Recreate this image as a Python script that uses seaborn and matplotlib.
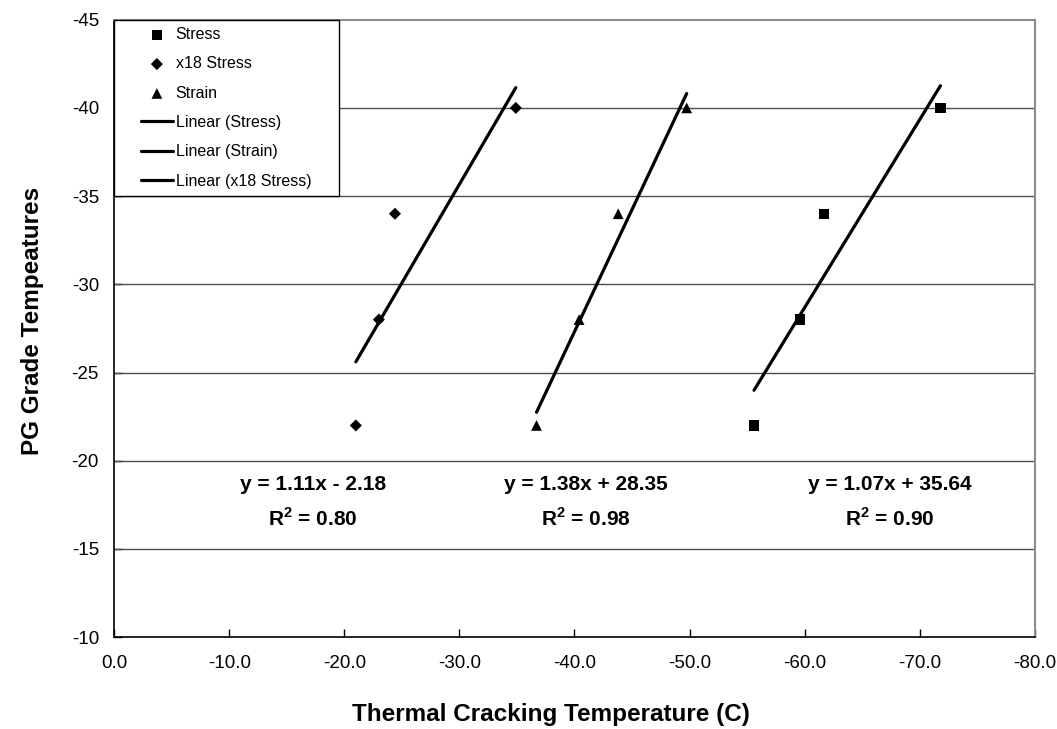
import numpy as np
import pandas as pd
import matplotlib
matplotlib.use("Agg")
import matplotlib.pyplot as plt
import seaborn as sns
from matplotlib.ticker import FixedLocator, FuncFormatter
from matplotlib.lines import Line2D
from matplotlib.collections import PathCollection
from matplotlib.legend_handler import HandlerLine2D, HandlerPathCollection

# ---- data ----
pg_grade = [-22, -28, -34, -40]
stress_x = [-55.6, -59.6, -61.7, -71.8]
x18_stress_x = [-21.0, -23.0, -24.4, -34.9]
strain_x = [-36.7, -40.4, -43.8, -49.75]

eq_texts = ["y = 1.11x - 2.18", "y = 1.38x + 28.35", "y = 1.07x + 35.64"]
r2_texts = ["R$^\\mathbf{2}$ = 0.80", "R$^\\mathbf{2}$ = 0.98", "R$^\\mathbf{2}$ = 0.90"]
x_ticks = [0, -10, -20, -30, -40, -50, -60, -70, -80]
y_ticks = [-45, -40, -35, -30, -25, -20, -15, -10]

sns.set_theme(style="white")
plt.rcParams['font.family'] = ['Liberation Sans', 'DejaVu Sans']
plt.rcParams['mathtext.fontset'] = 'custom'
plt.rcParams['mathtext.rm'] = 'Liberation Sans'
plt.rcParams['mathtext.bf'] = 'Liberation Sans:bold'
plt.rcParams['text.color'] = 'black'
plt.rcParams['axes.labelcolor'] = 'black'

fig = plt.figure(figsize=(10.57, 7.29), dpi=100)
ax = fig.add_axes([0.108, 0.126, 0.871, 0.847])

df_stress = pd.DataFrame({"x": stress_x, "y": pg_grade})
df_x18 = pd.DataFrame({"x": x18_stress_x, "y": pg_grade})
df_strain = pd.DataFrame({"x": strain_x, "y": pg_grade})

lw = 2.3
sns.scatterplot(data=df_stress, x="x", y="y", marker="s", s=55, color="black",
                edgecolor="none", label="Stress", ax=ax, zorder=4)
sns.scatterplot(data=df_x18, x="x", y="y", marker="D", s=38, color="black",
                edgecolor="none", label="x18 Stress", ax=ax, zorder=4)
sns.scatterplot(data=df_strain, x="x", y="y", marker="^", s=60, color="black",
                edgecolor="none", label="Strain", ax=ax, zorder=4)
sns.regplot(data=df_stress, x="x", y="y", scatter=False, ci=None, truncate=True,
            color="black", label="Linear (Stress)", line_kws={"lw": lw}, ax=ax)
sns.regplot(data=df_strain, x="x", y="y", scatter=False, ci=None, truncate=True,
            color="black", label="Linear (Strain)", line_kws={"lw": lw}, ax=ax)
sns.regplot(data=df_x18, x="x", y="y", scatter=False, ci=None, truncate=True,
            color="black", label="Linear (x18 Stress)", line_kws={"lw": lw}, ax=ax)

ax.set_xlim(0, -80)
ax.set_ylim(-10, -45)
ax.xaxis.set_major_locator(FixedLocator(x_ticks))
ax.yaxis.set_major_locator(FixedLocator(y_ticks))
ax.xaxis.set_major_formatter(FuncFormatter(lambda v, p: f"{v:.1f}"))
ax.yaxis.set_major_formatter(FuncFormatter(lambda v, p: f"{v:.0f}"))
ax.tick_params(axis="both", labelsize=13.5, colors="black", direction="in",
               length=6, width=1)
ax.tick_params(axis="x", pad=13, bottom=True)
ax.tick_params(axis="y", pad=11, left=True)

for yv in y_ticks[1:-1]:
    ax.axhline(yv, color="#4d4d4d", lw=1.0, zorder=1)

for side in ["left", "bottom"]:
    ax.spines[side].set_color("black")
    ax.spines[side].set_linewidth(1.2)
for side in ["top", "right"]:
    ax.spines[side].set_color("#8c8c8c")
    ax.spines[side].set_linewidth(1.5)

ax.set_xlabel("Thermal Cracking Temperature (C)", fontsize=17.5, fontweight="bold",
              color="black", va="center", ha="center")
ax.xaxis.set_label_coords(0.4745, -0.125)
ax.set_ylabel("PG Grade Tempeatures", fontsize=17.5, fontweight="bold",
              color="black", va="center", ha="center")
ax.yaxis.set_label_coords(-0.089, 0.512)

eq_x = [-17.3, -41.0, -67.4]
for xx, e, r in zip(eq_x, eq_texts, r2_texts):
    ax.text(xx, -18.68, e, ha="center", va="center", fontsize=15, fontweight="bold", color="black")
    ax.text(xx, -16.75, r, ha="center", va="center", fontsize=15, fontweight="bold", color="black")

handles, labels = ax.get_legend_handles_labels()
order = ["Stress", "x18 Stress", "Strain", "Linear (Stress)", "Linear (Strain)", "Linear (x18 Stress)"]
hmap = dict(zip(labels, handles))
leg = ax.legend([hmap[k] for k in order], order, loc="upper left",
                bbox_to_anchor=(0, 0, 0.2443, 1), mode="expand",
                borderaxespad=0, fontsize=11.5, frameon=True, fancybox=False,
                edgecolor="black", handlelength=3.25, handletextpad=0.15,
                labelspacing=0.9, borderpad=0.45, framealpha=1, scatterpoints=1,
                handler_map={Line2D: HandlerLine2D(xpad=1.2),
                             PathCollection: HandlerPathCollection(xpad=1.2)})
for t in leg.get_texts():
    t.set_color("black")
leg.get_frame().set_linewidth(1.0)
leg.set_zorder(5)

fig.savefig("out.png", dpi=100, facecolor="white")
